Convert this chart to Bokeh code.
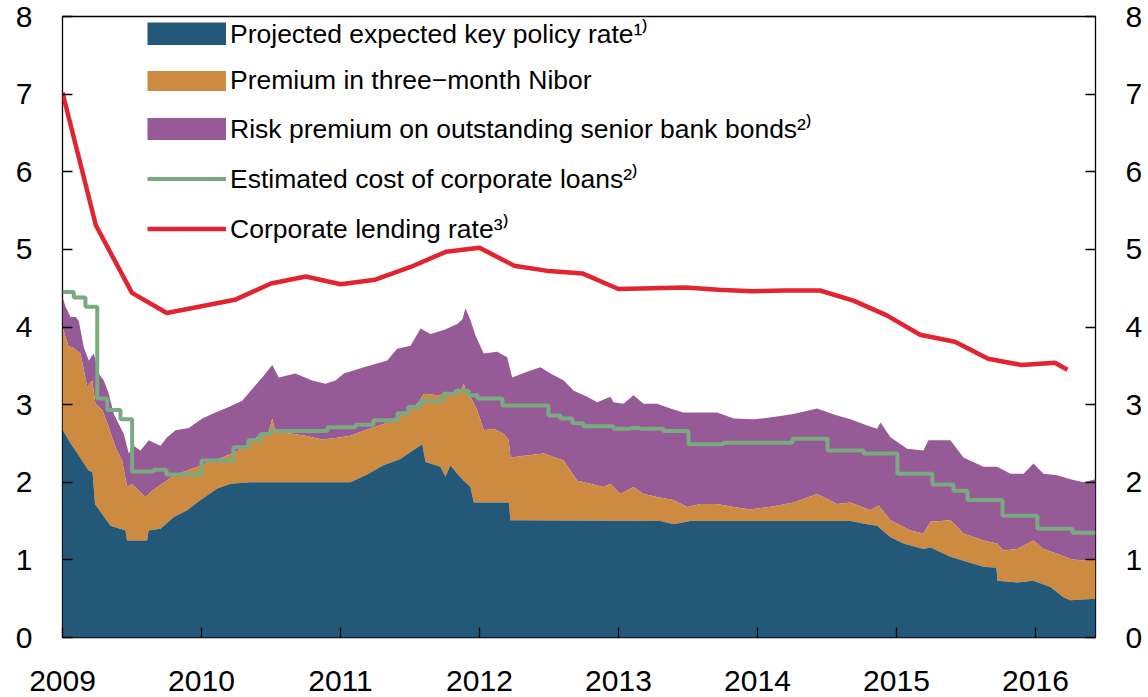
import numpy as np
from bokeh.plotting import figure
from bokeh.models import LinearAxis, FixedTicker, Range1d, Legend, LegendItem
from bokeh.embed import file_html
from bokeh.resources import INLINE

# ---------------- data (fractional years, percent) ----------------
year_ticks = [2009, 2010, 2011, 2012, 2013, 2014, 2015, 2016]
year_labels = ["2009", "2010", "2011", "2012", "2013", "2014", "2015", "2016"]
y_ticks = [0, 1, 2, 3, 4, 5, 6, 7, 8]

x_start, x_end = 2009.0, 2016.432

# Projected expected key policy rate (top of blue band)
policy_t = [2009.000, 2009.058, 2009.108, 2009.187, 2009.216, 2009.234, 2009.273, 2009.345,
            2009.453, 2009.464, 2009.609, 2009.619, 2009.705, 2009.799, 2009.897, 2009.993,
            2010.113, 2010.209, 2010.353, 2011.072, 2011.192, 2011.309, 2011.432, 2011.504,
            2011.588, 2011.612, 2011.647, 2011.719, 2011.755, 2011.791, 2011.840, 2011.887,
            2011.935, 2011.959, 2012.211, 2012.223, 2013.302, 2013.396, 2013.518, 2014.669,
            2014.789, 2014.861, 2014.957, 2015.050, 2015.194, 2015.245, 2015.388, 2015.482,
            2015.626, 2015.719, 2015.727, 2015.868, 2015.986, 2016.108, 2016.201, 2016.252,
            2016.432]
policy_v = [2.68, 2.50, 2.37, 2.15, 2.13, 1.72, 1.62, 1.44,
            1.38, 1.25, 1.25, 1.38, 1.40, 1.55, 1.64, 1.77,
            1.92, 1.98, 2.00, 2.00, 2.10, 2.22, 2.30, 2.39,
            2.49, 2.26, 2.24, 2.20, 2.07, 2.22, 2.11, 2.02,
            1.94, 1.74, 1.74, 1.51, 1.50, 1.46, 1.50, 1.50,
            1.46, 1.44, 1.29, 1.21, 1.14, 1.16, 1.04, 0.99,
            0.91, 0.90, 0.73, 0.71, 0.73, 0.65, 0.52, 0.48,
            0.50]

# Key policy rate + premium in three-month Nibor (top of orange band)
nibor_t = [2009.000, 2009.043, 2009.072, 2009.129, 2009.178, 2009.214, 2009.237, 2009.286,
           2009.333, 2009.381, 2009.429, 2009.465, 2009.501, 2009.549, 2009.597, 2009.645,
           2009.717, 2009.789, 2009.861, 2009.957, 2010.029, 2010.149, 2010.245, 2010.340,
           2010.412, 2010.482, 2010.509, 2010.532, 2010.628, 2010.748, 2010.868, 2010.964,
           2011.072, 2011.192, 2011.309, 2011.408, 2011.480, 2011.563, 2011.599, 2011.696,
           2011.768, 2011.840, 2011.871, 2011.887, 2011.906, 2011.935, 2011.983, 2012.031,
           2012.103, 2012.175, 2012.209, 2012.223, 2012.367, 2012.463, 2012.606, 2012.703,
           2012.799, 2012.894, 2012.942, 2013.014, 2013.108, 2013.182, 2013.278, 2013.396,
           2013.494, 2013.590, 2013.710, 2013.830, 2013.950, 2014.117, 2014.261, 2014.429,
           2014.573, 2014.669, 2014.813, 2014.871, 2014.957, 2015.101, 2015.194, 2015.245,
           2015.388, 2015.482, 2015.626, 2015.724, 2015.770, 2015.868, 2015.986, 2016.058,
           2016.156, 2016.252, 2016.345, 2016.432]
nibor_v = [4.00, 3.75, 3.74, 3.66, 3.23, 3.31, 3.01, 2.93,
           2.71, 2.45, 2.28, 1.94, 1.98, 1.89, 1.81, 1.89,
           1.98, 2.07, 2.13, 2.19, 2.24, 2.32, 2.39, 2.50,
           2.60, 2.64, 2.82, 2.65, 2.63, 2.60, 2.55, 2.57,
           2.60, 2.68, 2.75, 2.84, 2.90, 3.03, 3.14, 3.12,
           3.14, 3.16, 3.20, 3.27, 3.15, 3.10, 2.93, 2.67,
           2.69, 2.62, 2.55, 2.32, 2.35, 2.37, 2.28, 2.02,
           1.98, 1.94, 1.98, 1.85, 1.94, 1.85, 1.81, 1.77,
           1.68, 1.72, 1.72, 1.68, 1.65, 1.69, 1.74, 1.85,
           1.72, 1.74, 1.64, 1.70, 1.51, 1.38, 1.34, 1.49,
           1.51, 1.34, 1.25, 1.21, 1.12, 1.14, 1.25, 1.14,
           1.08, 1.01, 0.99, 1.01]

# + risk premium on outstanding senior bank bonds (top of purple band)
bond_t = [2009.000, 2009.022, 2009.058, 2009.094, 2009.117, 2009.153, 2009.189, 2009.225,
          2009.261, 2009.297, 2009.333, 2009.369, 2009.405, 2009.441, 2009.477, 2009.511,
          2009.561, 2009.621, 2009.669, 2009.705, 2009.753, 2009.813, 2009.909, 2010.005,
          2010.101, 2010.196, 2010.293, 2010.388, 2010.437, 2010.509, 2010.556, 2010.676,
          2010.796, 2010.892, 2010.964, 2011.024, 2011.168, 2011.264, 2011.336, 2011.408,
          2011.504, 2011.576, 2011.647, 2011.743, 2011.840, 2011.878, 2011.899, 2011.935,
          2011.971, 2012.031, 2012.127, 2012.199, 2012.235, 2012.367, 2012.439, 2012.511,
          2012.606, 2012.678, 2012.775, 2012.847, 2012.942, 2012.964, 2013.036, 2013.108,
          2013.180, 2013.278, 2013.374, 2013.468, 2013.710, 2013.830, 2013.973, 2014.115,
          2014.259, 2014.429, 2014.573, 2014.669, 2014.789, 2014.861, 2014.885, 2014.957,
          2015.077, 2015.194, 2015.230, 2015.388, 2015.482, 2015.626, 2015.724, 2015.820,
          2015.914, 2015.986, 2016.058, 2016.156, 2016.252, 2016.345, 2016.432]
bond_v = [4.39, 4.26, 4.13, 4.13, 4.08, 3.74, 3.57, 3.66,
          3.40, 3.31, 3.14, 2.88, 2.75, 2.62, 2.37, 2.47,
          2.41, 2.54, 2.50, 2.47, 2.58, 2.67, 2.70, 2.82,
          2.90, 2.97, 3.05, 3.25, 3.35, 3.51, 3.35, 3.40,
          3.31, 3.27, 3.31, 3.40, 3.48, 3.53, 3.57, 3.72,
          3.76, 3.98, 3.91, 3.96, 4.04, 4.10, 4.24, 4.09,
          3.89, 3.66, 3.68, 3.61, 3.35, 3.44, 3.48, 3.40,
          3.31, 3.18, 3.10, 3.03, 3.10, 3.03, 3.01, 3.12,
          3.01, 3.01, 2.95, 2.90, 2.90, 2.82, 2.81, 2.84,
          2.88, 2.95, 2.86, 2.81, 2.73, 2.69, 2.77, 2.58,
          2.43, 2.41, 2.54, 2.54, 2.32, 2.20, 2.20, 2.11,
          2.11, 2.24, 2.11, 2.09, 2.04, 2.00, 2.04]

# Estimated cost of corporate loans (step series)
cost_t = [2009.000, 2009.081, 2009.165, 2009.250, 2009.322, 2009.417, 2009.501, 2009.655,
          2009.748, 2010.000, 2010.230, 2010.338, 2010.424, 2010.496, 2010.906, 2011.108,
          2011.237, 2011.410, 2011.489, 2011.576, 2011.741, 2011.827, 2011.921, 2011.986,
          2012.165, 2012.496, 2012.583, 2012.669, 2012.748, 2012.964, 2013.086, 2013.158,
          2013.324, 2013.504, 2013.755, 2014.252, 2014.504, 2014.763, 2015.007, 2015.259,
          2015.410, 2015.511, 2015.763, 2016.014, 2016.266]
cost_v = [4.45, 4.38, 4.26, 3.08, 2.93, 2.81, 2.14, 2.16,
          2.10, 2.28, 2.45, 2.54, 2.62, 2.66, 2.71, 2.74,
          2.80, 2.89, 2.97, 3.05, 3.14, 3.18, 3.12, 3.08,
          2.99, 2.86, 2.82, 2.76, 2.72, 2.69, 2.70, 2.69,
          2.66, 2.49, 2.51, 2.56, 2.41, 2.37, 2.11, 1.97,
          1.89, 1.77, 1.57, 1.40, 1.35]

# Corporate lending rate (quarterly)
lending_t = [2009.000, 2009.240, 2009.500, 2009.750, 2010.240, 2010.500, 2010.750, 2011.000,
             2011.250, 2011.500, 2011.760, 2012.000, 2012.250, 2012.500, 2012.740, 2013.000,
             2013.240, 2013.480, 2013.720, 2013.960, 2014.200, 2014.450, 2014.690, 2014.930,
             2015.170, 2015.420, 2015.660, 2015.900, 2016.140, 2016.230]
lending_v = [7.02, 5.31, 4.44, 4.18, 4.35, 4.56, 4.65, 4.55,
             4.61, 4.77, 4.97, 5.02, 4.79, 4.72, 4.69, 4.49,
             4.50, 4.51, 4.48, 4.46, 4.47, 4.47, 4.34, 4.15,
             3.90, 3.81, 3.59, 3.51, 3.54, 3.45]

labels = ["Projected expected key policy rate\u00b9\u207e",
          "Premium in three\u2212month Nibor",
          "Risk premium on outstanding senior bank bonds\u00b2\u207e",
          "Estimated cost of corporate loans\u00b2\u207e",
          "Corporate lending rate\u00b3\u207e"]

BLUE = "#245878"
ORANGE = "#cd8b42"
PURPLE = "#965a96"
GREEN = "#7aaa80"
RED = "#e22330"
FONT = "Liberation Sans"

# ---------------- figure ----------------
p = figure(width=1148, height=697, x_range=Range1d(x_start, x_end), y_range=Range1d(0, 8),
           output_backend="svg", toolbar_location=None,
           min_border_left=62, min_border_right=53, min_border_top=16, min_border_bottom=60)
p.xgrid.visible = False
p.ygrid.visible = False
p.outline_line_color = "black"
p.outline_line_width = 1.3
p.background_fill_color = "white"
p.border_fill_color = "white"

# stacked bands as polygons between boundaries
purple_x = bond_t + nibor_t[::-1]
purple_y = bond_v + nibor_v[::-1]
orange_x = nibor_t + policy_t[::-1]
orange_y = nibor_v + policy_v[::-1]
blue_x = [policy_t[0]] + policy_t + [policy_t[-1]]
blue_y = [0] + policy_v + [0]

p.patch(purple_x, purple_y, fill_color=PURPLE, line_color=None)
p.patch(orange_x, orange_y, fill_color=ORANGE, line_color=None)
p.patch(blue_x, blue_y, fill_color=BLUE, line_color=None)

r_green = p.step(cost_t + [x_end], cost_v + [cost_v[-1]], mode="after",
                 line_color=GREEN, line_width=4)
r_red = p.line(lending_t, lending_v, line_color=RED, line_width=4.5)

# legend keys: thick invisible (NaN) lines give full-size rectangular swatches
nan2 = np.array([np.nan, np.nan])
key_x = np.array([x_start, x_end])
k_blue = p.line(key_x, nan2, line_color=BLUE, line_width=23, line_cap="butt")
k_orange = p.line(key_x, nan2, line_color=ORANGE, line_width=20, line_cap="butt")
k_purple = p.line(key_x, nan2, line_color=PURPLE, line_width=22, line_cap="butt")

# axes
def style_axis(ax, standoff):
    ax.axis_line_color = None
    ax.major_tick_in = 10
    ax.major_tick_out = 0
    ax.minor_tick_line_color = None
    ax.major_tick_line_color = "black"
    ax.major_tick_line_width = 1.3
    ax.major_label_text_font = FONT
    ax.major_label_text_font_size = "30px"
    ax.major_label_text_color = "black"
    ax.major_label_standoff = standoff

p.xaxis[0].ticker = FixedTicker(ticks=year_ticks)
p.xaxis[0].major_label_overrides = {y: l for y, l in zip(year_ticks, year_labels)}
style_axis(p.xaxis[0], 33)
p.yaxis[0].ticker = FixedTicker(ticks=y_ticks)
style_axis(p.yaxis[0], 30)

right = LinearAxis(ticker=FixedTicker(ticks=y_ticks))
style_axis(right, 30)
p.add_layout(right, "right")

legend = Legend(items=[LegendItem(label=labels[0], renderers=[k_blue]),
                       LegendItem(label=labels[1], renderers=[k_orange]),
                       LegendItem(label=labels[2], renderers=[k_purple]),
                       LegendItem(label=labels[3], renderers=[r_green]),
                       LegendItem(label=labels[4], renderers=[r_red])],
                location=(85, 391), glyph_width=79, glyph_height=23, label_height=30,
                spacing=14, padding=0, margin=0, label_standoff=4,
                border_line_color=None, background_fill_alpha=0,
                label_text_font=FONT, label_text_font_size="26.5px", label_text_color="black")
p.add_layout(legend)

open("out.html", "w").write(file_html(p, INLINE))
